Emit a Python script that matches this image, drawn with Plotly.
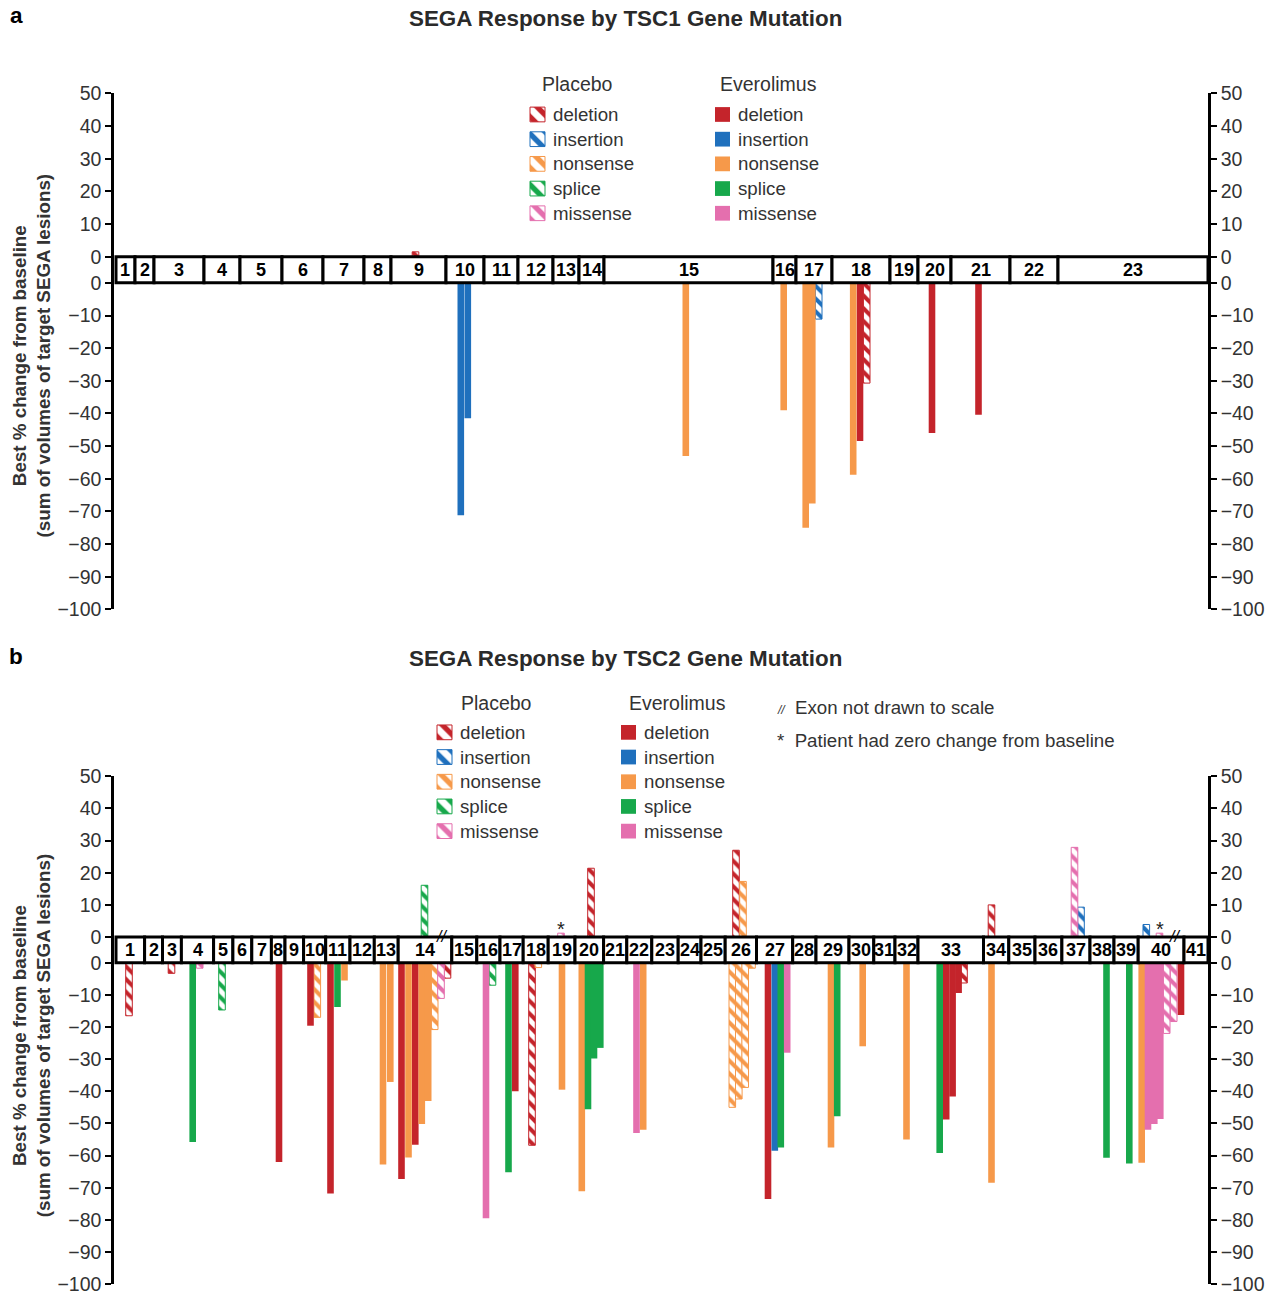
import plotly.graph_objects as go

# ---------------------------------------------------------------- data
GAP = 8            # height of the exon strip, in axis units
ZERO_STUB = 1.2    # drawn height of a "zero change" bar

MUT_TYPES = ["deletion", "insertion", "nonsense", "splice", "missense"]
ARMS = ["Placebo", "Everolimus"]

# TSC1 (panel a): exon boundaries along the gene (arbitrary drawing units)
TSC1_EXON_LABELS = [str(i) for i in range(1, 24)]
TSC1_EXON_EDGES = [2, 21, 40, 90, 126, 168, 209, 250, 277, 332, 370, 404, 439,
                   465, 490, 659, 682, 718, 776, 804, 837, 896, 944, 1094]
TSC1_BREAKS = []

# TSC1 patients: arm, mutation type, position along gene, best % change
TSC1_ARM = ["Placebo", "Placebo", "Placebo",
            "Everolimus", "Everolimus", "Everolimus", "Everolimus", "Everolimus",
            "Everolimus", "Everolimus", "Everolimus", "Everolimus", "Everolimus"]
TSC1_MUT = ["deletion", "deletion", "insertion",
            "deletion", "deletion", "deletion", "insertion", "insertion",
            "nonsense", "nonsense", "nonsense", "nonsense", "nonsense"]
TSC1_POS = [301.5, 752.7, 704.7,
            746.0, 818.0, 864.5, 346.8, 353.8,
            571.8, 669.7, 691.7, 698.3, 739.2]
TSC1_VAL = [1.5, -30.7, -11.1,
            -48.4, -46.0, -40.4, -71.2, -41.5,
            -53.0, -39.0, -75.0, -67.6, -58.8]

# TSC2 (panel b)
TSC2_EXON_LABELS = [str(i) for i in range(1, 42)]
TSC2_EXON_EDGES = [2, 30.6, 48.5, 67.4, 99.6, 118.9, 137.8, 157.4, 171, 189.6,
                   211.7, 236, 260.3, 284.2, 337.8, 362.8, 386, 409.2, 434.2,
                   461, 489.6, 512.8, 537.8, 564.2, 587, 611.2, 642.5, 678.7,
                   702, 735, 759.8, 781, 804, 869.5, 894.8, 921, 947.9, 976,
                   1000, 1024.2, 1070, 1094]
TSC2_BREAKS = ["14", "40"]   # exons not drawn to scale

TSC2_ARM = ["Placebo"] * 28 + ["Everolimus"] * 43
TSC2_MUT = (["deletion"] * 8 + ["insertion"] * 2 + ["nonsense"] * 8 + ["splice"] * 3
            + ["missense"] * 7
            + ["deletion"] * 11 + ["insertion"] * 1 + ["nonsense"] * 14
            + ["splice"] * 11 + ["missense"] * 6)
TSC2_POS = [
    # placebo deletion
    15, 57.5, 333.5, 418, 477, 622, 850, 877.5,
    # placebo insertion
    967, 1032.3,
    # placebo nonsense
    203.3, 320.7, 424.3, 618.3, 624.8, 631.2, 638, 629,
    # placebo splice
    108, 310.5, 378.5,
    # placebo missense
    85.7, 327, 447, 960.5, 1045.5, 1052.7, 1059.7,
    # everolimus deletion
    165, 196.5, 216.5, 287.5, 301.3, 401.3, 654, 832.2, 838.6, 844.6, 1067,
    # everolimus insertion
    660.8,
    # everolimus nonsense
    230.5, 269, 276.3, 294.5, 307.8, 314.2, 448, 467.8, 529.2, 717, 748.7,
    792.5, 877.5, 1027.7,
    # everolimus splice
    78.7, 223.5, 394.5, 474, 480, 486.3, 666.8, 723.2, 825.7, 992.5, 1015.3,
    # everolimus missense
    372, 522.5, 673.2, 1034, 1040.3, 1046.3,
]
TSC2_VAL = [
    -16.5, -3.3, -4.8, -56.8, 21.4, 27.0, -6.3, 10.0,
    9.3, 3.9,
    -17.0, -20.8, -1.5, -45.0, -42.4, -38.8, -1.7, 17.3,
    -14.7, 16.1, -7.0,
    -1.7, -11.1, 0.0, 27.9, 0.0, -22.0, -18.3,
    -62.0, -19.6, -71.8, -67.3, -56.6, -40.0, -73.5, -48.8, -41.6, -9.4, -16.3,
    -58.5,
    -5.5, -62.8, -37.1, -60.6, -50.2, -43.0, -39.5, -71.1, -52.0, -57.5, -26.0,
    -55.0, -68.5, -62.2,
    -55.8, -13.8, -65.2, -45.6, -29.8, -26.5, -57.5, -47.8, -59.2, -60.7, -62.5,
    -79.5, -53.0, -28.0, -52.0, -50.2, -48.6,
]

Y_TICKS_UP = [50, 40, 30, 20, 10, 0]
Y_TICKS_DOWN = [0, -10, -20, -30, -40, -50, -60, -70, -80, -90, -100]

NOTE_BREAK = "Exon not drawn to scale"
NOTE_ZERO = "Patient had zero change from baseline"

# ---------------------------------------------------------------- style
W, H = 1272, 1301
COLORS = {"deletion": "#C4242B", "insertion": "#1F70BD", "nonsense": "#F6994A",
          "splice": "#17A84B", "missense": "#E46FAE"}
FONT = "Arial, Liberation Sans, sans-serif"
TXT = "#333333"
BAR_W = 6.6
SW = 15          # legend swatch size (px)

# vertical calibration of the photographed page
V_OFF, V_SCALE = 10.5, 0.9833


def px(x):
    return x / W


def fy(y):
    return min((y - V_OFF) / V_SCALE, H - 6)


def py(y):
    return 1 - fy(y) / H


def marker_for(arm, mut, line_w=1, size=9):
    color = COLORS[mut]
    if arm == "Placebo":
        return dict(color="white", line=dict(color=color, width=line_w),
                    pattern=dict(shape="\\", fgcolor=color, bgcolor="white",
                                 size=size, solidity=0.45, fillmode="replace"))
    return dict(color=color, line=dict(width=0))


X_DOMAIN = [px(114), px(1208)]
X_RANGE = [0, 1094]
Y_RANGE = [-100, 50 + GAP]
PANELS = [
    dict(key="a", xa="x", ya="y", ya2="y2", dom=[py(609), py(93)],
         labels=TSC1_EXON_LABELS, edges=TSC1_EXON_EDGES, breaks=TSC1_BREAKS,
         arm=TSC1_ARM, mut=TSC1_MUT, pos=TSC1_POS, val=TSC1_VAL,
         title="SEGA Response by TSC1 Gene Mutation", title_y=18, letter_y=15,
         ytitle_y=355,
         leg_sw=(537.5, 722.5), leg_head=(577, 768), head_y=84, rows_y0=114),
    dict(key="b", xa="x2", ya="y3", ya2="y4", dom=[py(1292), py(776)],
         labels=TSC2_EXON_LABELS, edges=TSC2_EXON_EDGES, breaks=TSC2_BREAKS,
         arm=TSC2_ARM, mut=TSC2_MUT, pos=TSC2_POS, val=TSC2_VAL,
         title="SEGA Response by TSC2 Gene Mutation", title_y=658, letter_y=656,
         ytitle_y=1035,
         leg_sw=(444.5, 628.5), leg_head=(496, 677), head_y=703, rows_y0=732),
]
ROW_STEP = 24.7

tickvals = [v + GAP for v in Y_TICKS_UP] + Y_TICKS_DOWN
ticktext = [str(v).replace("-", "\u2212") for v in Y_TICKS_UP + Y_TICKS_DOWN]

fig = go.Figure()
shapes, annotations = [], []
layout = dict(width=W, height=H, autosize=False, margin=dict(l=0, r=0, t=0, b=0, pad=0),
              paper_bgcolor="white", plot_bgcolor="rgba(0,0,0,0)", barmode="overlay",
              font=dict(family=FONT, size=18, color=TXT), showlegend=False)


def yaxis_def(domain, side, anchor, overlay=None):
    d = dict(domain=domain, range=Y_RANGE, anchor=anchor, side=side,
             showline=True, linewidth=2.5, linecolor="black", mirror=False,
             ticks="outside", ticklen=6, tickwidth=2, tickcolor="black",
             tickmode="array", tickvals=tickvals, ticktext=ticktext,
             tickfont=dict(family=FONT, size=19.5, color=TXT),
             showgrid=False, zeroline=False, fixedrange=True)
    if overlay:
        d["overlaying"] = overlay
    return d


def ann(x, y, text, size, color=TXT, xanchor="center", yanchor="middle", **kw):
    d = dict(x=x, y=y, xref="paper", yref="paper", text=text, showarrow=False,
             xanchor=xanchor, yanchor=yanchor,
             font=dict(family=FONT, size=size, color=color))
    d.update(kw)
    return d


# full-page overlay axes (pixel units) used for the legend swatches
layout["xaxis3"] = dict(domain=[0, 1], range=[0, W], visible=False, fixedrange=True,
                        anchor="y5")
layout["yaxis5"] = dict(domain=[0, 1], range=[H, 0], visible=False, fixedrange=True,
                        anchor="x3")

for p in PANELS:
    xname = "xaxis" if p["xa"] == "x" else "xaxis" + p["xa"][1:]
    ya_name = "yaxis" if p["ya"] == "y" else "yaxis" + p["ya"][1:]
    ya2_name = "yaxis" + p["ya2"][1:]
    layout[xname] = dict(domain=X_DOMAIN, range=X_RANGE, anchor=p["ya"],
                         visible=False, fixedrange=True)
    layout[ya_name] = yaxis_def(p["dom"], "left", p["xa"])
    layout[ya2_name] = yaxis_def(p["dom"], "right", p["xa"], overlay=p["ya"])
    # an empty trace so the right-hand axis is drawn
    fig.add_trace(go.Scatter(x=[None], y=[None], xaxis=p["xa"], yaxis=p["ya2"],
                             mode="markers", hoverinfo="skip"))

    # bars, one trace per arm x mutation type
    for ai, arm in enumerate(ARMS):
        for mut in MUT_TYPES:
            idx = [i for i in range(len(p["val"])) if p["arm"][i] == arm and p["mut"][i] == mut]
            if not idx:
                continue
            vals = [p["val"][i] for i in idx]
            xs = [p["pos"][i] for i in idx]
            disp = [v if v != 0 else ZERO_STUB for v in vals]
            base = [GAP if v >= 0 else 0 for v in vals]
            fig.add_trace(go.Bar(x=xs, y=disp, base=base, width=BAR_W,
                                 marker=marker_for(arm, mut), name="%s %s" % (arm, mut),
                                 xaxis=p["xa"], yaxis=p["ya"], hoverinfo="skip"))
            for x, v in zip(xs, vals):
                if v == 0:
                    annotations.append(dict(x=x, y=GAP + ZERO_STUB, xref=p["xa"], yref=p["ya"],
                                            text="*", showarrow=False, xanchor="center",
                                            yanchor="bottom", yshift=-9,
                                            font=dict(family=FONT, size=20, color="#222")))

    # exon strip
    for i, lab in enumerate(p["labels"]):
        x0, x1 = p["edges"][i], p["edges"][i + 1]
        shapes.append(dict(type="rect", xref=p["xa"], yref=p["ya"], x0=x0, x1=x1,
                           y0=0, y1=GAP, line=dict(color="black", width=3),
                           fillcolor="white", layer="above"))
        annotations.append(dict(x=(x0 + x1) / 2, y=GAP / 2, xref=p["xa"], yref=p["ya"],
                                text="<b>%s</b>" % lab, showarrow=False,
                                xanchor="center", yanchor="middle",
                                font=dict(family=FONT, size=18, color="black")))
        if lab in p["breaks"]:
            annotations.append(dict(x=x1 - 10, y=GAP, xref=p["xa"], yref=p["ya"],
                                    text="<i>//</i>", showarrow=False, xanchor="center",
                                    yanchor="middle", yshift=1,
                                    font=dict(family=FONT, size=16, color="black")))

    # titles
    annotations.append(ann(px(625), py(p["title_y"]), "<b>%s</b>" % p["title"], 22.4,
                           color="#2a2a2a"))
    annotations.append(ann(px(16), py(p["letter_y"]), "<b>%s</b>" % p["key"], 22.5,
                           color="black"))
    annotations.append(ann(px(31), py(p["ytitle_y"]),
                           "<b>Best % change from baseline</b><br>"
                           "<b>(sum of volumes of target SEGA lesions)</b>",
                           18.8, textangle=-90))

    # legend: two columns (placebo hatched, everolimus solid)
    for ai, arm in enumerate(ARMS):
        sx = p["leg_sw"][ai]
        annotations.append(ann(px(p["leg_head"][ai]), py(p["head_y"]), arm, 19.5))
        for ri, mut in enumerate(MUT_TYPES):
            ry = fy(p["rows_y0"] + ri * ROW_STEP)
            fig.add_trace(go.Bar(x=[sx], y=[-SW], base=[ry + SW / 2], width=SW,
                                 marker=marker_for(arm, mut, size=12),
                                 xaxis="x3", yaxis="y5", hoverinfo="skip"))
            annotations.append(ann(px(sx + SW / 2 + 6), 1 - ry / H, mut, 18.7,
                                   xanchor="left"))

# notes for panel b
annotations.append(ann(px(775), py(707),
                       "<i><span style='font-size:12px'>//</span></i>  " + NOTE_BREAK,
                       18.7, xanchor="left"))
annotations.append(ann(px(775), py(740), "*  " + NOTE_ZERO, 18.7, xanchor="left"))

layout["shapes"] = shapes
layout["annotations"] = annotations
fig.update_layout(**layout)
fig.write_html("out.html", config={"displayModeBar": False})
